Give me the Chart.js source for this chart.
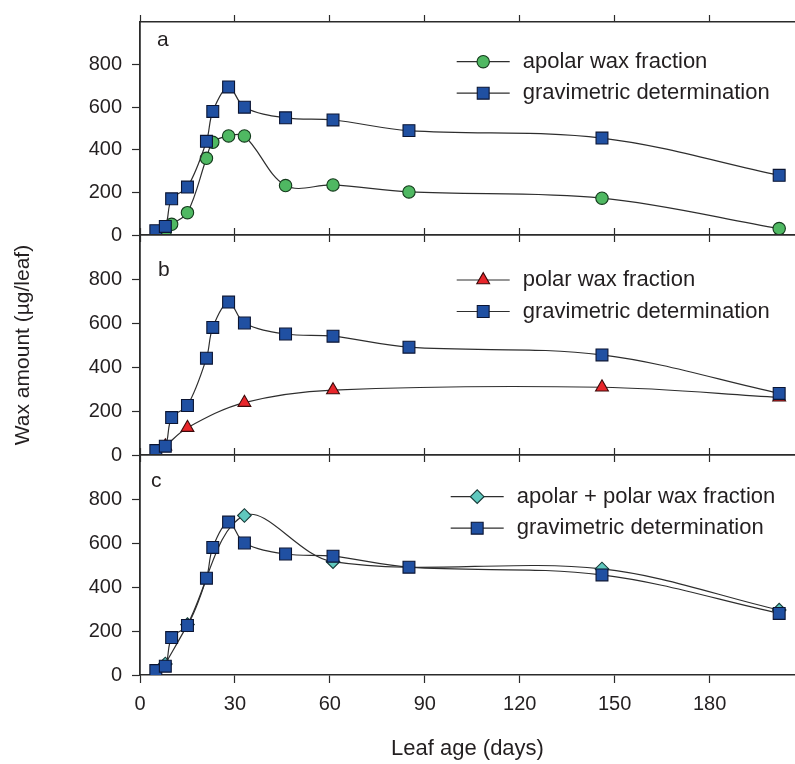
<!DOCTYPE html>
<html>
<head>
<meta charset="utf-8">
<title>Wax amount vs leaf age</title>
<script src="https://cdn.jsdelivr.net/npm/chart.js@4.4.1/dist/chart.umd.min.js"></script>
<style>
  html, body { margin: 0; padding: 0; background: #fff; }
  #wrap { position: relative; width: 795px; height: 764px; }
  #wrap canvas { position: absolute; left: 0; top: 0; }
</style>
</head>
<body>
<div id="wrap">
  <canvas id="chartA" width="795" height="764"></canvas>
  <canvas id="chartB" width="795" height="764"></canvas>
  <canvas id="chartC" width="795" height="764"></canvas>
</div>
<script>
// leaf age (days) and wax amount (ug/leaf)
const gravDays = [5, 8, 10, 15, 21, 23, 28, 33, 46, 61, 85, 146, 202];
const gravWax = [20, 40, 170, 225, 440, 580, 695, 600, 550, 540, 490, 455, 280];

const apolarDays = [8, 10, 15, 21, 23, 28, 33, 46, 61, 85, 146, 202];
const apolarWax = [18, 50, 105, 360, 435, 465, 465, 232, 235, 202, 173, 30];

const polarDays = [8, 15, 33, 61, 146, 202];
const polarWax = [40, 124, 238, 295, 308, 262];

const sumDays = [8, 15, 33, 61, 146, 202];
const sumWax = [50, 229, 725, 515, 482, 295];

const xTicks = [0, 30, 60, 90, 120, 150, 180];
const yTicks = [0, 200, 400, 600, 800];

const FONT = '"Liberation Sans", Arial, Helvetica, sans-serif';
const INK = '#231f20';
const AXIS = '#2b2b2b';
const LINE = '#2e2e2e';

function pts(days, vals) {
  return days.map((d, i) => ({ x: d, y: vals[i] }));
}

function series(label, days, vals, style, radius, fill, edge) {
  return {
    label: label,
    data: pts(days, vals),
    xAxisID: 'x',
    yAxisID: 'y',
    borderColor: LINE,
    borderWidth: 1.2,
    tension: 0.35,
    pointStyle: style,
    pointRadius: radius,
    pointBackgroundColor: fill,
    pointBorderColor: edge,
    pointBorderWidth: 1.1
  };
}

const grav = () => series('gravimetric determination', gravDays, gravWax, 'rect', 8.4, '#2050a2', '#0b1533');

// x axis with forced height so the three panels line up
function xAxis(pos, height, labels, tickLen) {
  return {
    type: 'linear', position: pos, min: 0, max: 207,
    afterBuildTicks: s => { s.ticks = xTicks.map(v => ({ value: v })); },
    afterFit: s => { s.height = height; },
    border: { display: true, color: AXIS, width: 1.5 },
    grid: { drawOnChartArea: false, drawTicks: true, tickLength: tickLen, color: AXIS, tickWidth: 1.2 },
    ticks: { display: labels, color: INK, font: { size: 20, family: FONT }, padding: 9, maxRotation: 0 },
    title: labels ? { display: true, text: 'Leaf age (days)', color: INK, font: { size: 22, family: FONT }, padding: { top: 0, bottom: 2 } } : { display: false }
  };
}

function yAxis(withTitle) {
  return {
    type: 'linear', min: 0, max: 1000,
    afterBuildTicks: s => { s.ticks = yTicks.map(v => ({ value: v })); },
    afterFit: s => { s.width = 140; },
    border: { display: true, color: AXIS, width: 1.8 },
    grid: { drawOnChartArea: false, drawTicks: true, tickLength: 8, color: AXIS, tickWidth: 1.2 },
    ticks: { color: INK, font: { size: 20, family: FONT }, padding: 10 },
    title: { display: withTitle, text: 'Wax amount (µg/leaf)', color: INK, font: { size: 21, family: FONT }, padding: { top: 11, bottom: 0 } }
  };
}

// panel letter + legend (line with marker in the middle)
const panelDecor = {
  id: 'panelDecor',
  afterDatasetsDraw(chart, args, o) {
    const ctx = chart.ctx;
    ctx.save();
    ctx.fillStyle = INK;
    ctx.textBaseline = 'middle';
    ctx.font = '21px ' + FONT;
    ctx.fillText(o.letter, o.letterX, o.letterY);
    ctx.font = '22px ' + FONT;
    o.items.forEach((idx, i) => {
      const ds = chart.data.datasets[idx];
      const y = o.y + i * 31.5;
      ctx.strokeStyle = ds.borderColor;
      ctx.lineWidth = 1.2;
      ctx.beginPath();
      ctx.moveTo(o.x, y);
      ctx.lineTo(o.x + 53, y);
      ctx.stroke();
      ctx.fillStyle = ds.pointBackgroundColor;
      ctx.strokeStyle = ds.pointBorderColor;
      ctx.lineWidth = 1.1;
      Chart.helpers.drawPoint(ctx, { pointStyle: ds.pointStyle, radius: ds.pointRadius, rotation: 0, borderWidth: 1.1 }, o.x + 26.5, y);
      ctx.fillStyle = INK;
      ctx.fillText(ds.label, o.x + 66, y);
    });
    ctx.restore();
  }
};

function makeChart(id, datasets, scales, padTop, decor) {
  return new Chart(document.getElementById(id), {
    type: 'line',
    data: { datasets: datasets },
    options: {
      responsive: false,
      animation: false,
      events: [],
      layout: { padding: { top: padTop, left: 0, right: 0, bottom: 0 }, autoPadding: false },
      scales: scales,
      plugins: { legend: { display: false }, tooltip: { enabled: false }, panelDecor: decor }
    },
    plugins: [panelDecor]
  });
}

// panel a
makeChart('chartA', [
  grav(),
  series('apolar wax fraction', apolarDays, apolarWax, 'circle', 6.2, '#4fb862', '#143a1c')
], {
  x: xAxis('bottom', 529, false, 7),
  xTop: xAxis('top', 15, false, 7),
  y: yAxis(false)
}, 0, { letter: 'a', letterX: 157, letterY: 40, x: 456.7, y: 61.7, items: [1, 0] });

// panel b
makeChart('chartB', [
  grav(),
  series('polar wax fraction', polarDays, polarWax, 'triangle', 7.4, '#e8262b', '#3a0a0a')
], {
  x: xAxis('bottom', 309, false, 7),
  xTop: xAxis('top', 0, false, 7),
  y: yAxis(true)
}, 235, { letter: 'b', letterX: 158, letterY: 270, x: 456.7, y: 280, items: [1, 0] });

// panel c
makeChart('chartC', [
  grav(),
  series('apolar + polar wax fraction', sumDays, sumWax, 'rectRot', 6.8, '#5fc8be', '#173a38')
], {
  x: xAxis('bottom', 89, true, 8),
  xTop: xAxis('top', 0, false, 7),
  y: yAxis(false)
}, 455, { letter: 'c', letterX: 151, letterY: 481, x: 450.7, y: 496.7, items: [1, 0] });
</script>
</body>
</html>
